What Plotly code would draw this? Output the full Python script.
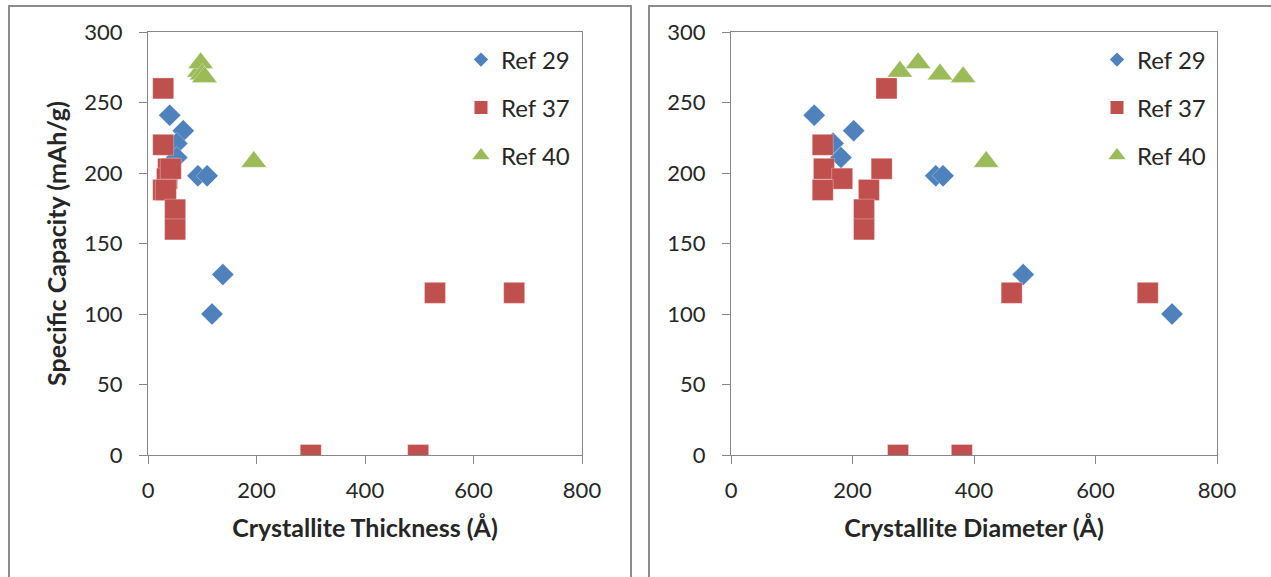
import plotly.graph_objects as go

# ---------------- data ----------------
series_names = ["Ref 29", "Ref 37", "Ref 40"]

capacity_ref29 = [241, 230, 221, 211, 198, 198, 128, 100]
thickness_ref29 = [40, 65, 53, 53, 92, 109, 138, 118]
diameter_ref29 = [137, 202, 168, 181, 337, 349, 481, 726]

capacity_ref37 = [260, 220, 203, 196, 203, 188, 188, 174, 160, 115, 115, 0, 0]
thickness_ref37 = [28, 28, 37, 35, 42, 28, 33, 50, 50, 529, 675, 300, 498]
diameter_ref37 = [256, 151, 153, 183, 248, 151, 227, 219, 219, 462, 686, 275, 380]

capacity_ref40 = [272, 278, 270, 268, 208]
thickness_ref40 = [95, 97, 100, 104, 195]
diameter_ref40 = [278, 308, 344, 382, 420]

x_ticks = [0, 200, 400, 600, 800]
y_ticks = [0, 50, 100, 150, 200, 250, 300]

# ---------------- styling ----------------
W, H = 1271, 577
colors = ["#4F81BD", "#C0504D", "#9BBB59"]
symbols = ["diamond", "square", "triangle-up"]
sizes = [17, 21, 22]
legend_sizes = [11, 13, 15]
FONT = "Lato"
TXT = "#262626"
AX_COLOR = "#868686"


def px_x(v):
    return v / W


def px_y(v):
    return 1 - v / H


fig = go.Figure()

panels = [
    ("x", "y", [thickness_ref29, thickness_ref37, thickness_ref40], ["legend", "legend2", "legend3"], 481),
    ("x2", "y2", [diameter_ref29, diameter_ref37, diameter_ref40], ["legend4", "legend5", "legend6"], 1117),
]
caps = [capacity_ref29, capacity_ref37, capacity_ref40]

for xa, ya, xs_list, legs, leg_x in panels:
    for i in range(3):
        fig.add_trace(go.Scatter(
            x=xs_list[i], y=caps[i], xaxis=xa, yaxis=ya, mode="markers",
            name=series_names[i], showlegend=False,
            marker=dict(symbol=symbols[i], size=sizes[i], color=colors[i],
                        line=dict(width=0.6, color="rgba(255,255,255,0.5)")),
        ))
    for i in range(3):
        fig.add_trace(go.Scatter(
            x=[None], y=[None], xaxis=xa, yaxis=ya, mode="markers",
            name=series_names[i], showlegend=True, legend=legs[i],
            marker=dict(symbol=symbols[i], size=legend_sizes[i], color=colors[i]),
        ))

leg_common = dict(font=dict(family=FONT, size=24, color=TXT),
                  bgcolor="rgba(0,0,0,0)", xanchor="left", yanchor="middle",
                  itemwidth=30, borderwidth=0)
leg_rows = [60, 108, 156]
layout_legs = {}
for p, (_, _, _, legs, leg_x) in enumerate(panels):
    for i, lg in enumerate(legs):
        layout_legs[lg] = dict(leg_common, x=px_x(leg_x - 20), y=px_y(leg_rows[i]))

axis_common = dict(showgrid=False, zeroline=False, showline=True, linecolor=AX_COLOR,
                   linewidth=1, mirror=True, ticks="outside", ticklen=8, tickcolor=AX_COLOR,
                   automargin=False,
                   tickfont=dict(family=FONT, size=22, color=TXT))
xtitle_font = dict(family=FONT, size=25, color=TXT)
ytitle_font = dict(family=FONT, size=25, color=TXT)

fig.update_layout(
    width=W, height=H, margin=dict(l=0, r=0, t=0, b=0, autoexpand=False),
    paper_bgcolor="white", plot_bgcolor="white",
    xaxis=dict(axis_common, domain=[px_x(148), px_x(582)], range=[0, 800], tickvals=x_ticks,
               anchor="y", ticklabelstandoff=8,
               title=dict(text="<b>Crystallite Thickness (Å)</b>", standoff=17, font=xtitle_font)),
    yaxis=dict(axis_common, domain=[px_y(455), px_y(32)], range=[0, 300], tickvals=y_ticks,
               anchor="x", ticklabelstandoff=12,
               title=dict(text="<b>Specific Capacity (mAh/g)</b>", standoff=10, font=ytitle_font)),
    xaxis2=dict(axis_common, domain=[px_x(731), px_x(1217)], range=[0, 800], tickvals=x_ticks,
                anchor="y2", ticklabelstandoff=8,
                title=dict(text="<b>Crystallite Diameter (Å)</b>", standoff=17, font=xtitle_font)),
    yaxis2=dict(axis_common, domain=[px_y(455), px_y(32)], range=[0, 300], tickvals=y_ticks,
                anchor="x2", ticklabelstandoff=12),
    **layout_legs,
    shapes=[
        dict(type="rect", xref="paper", yref="paper", x0=px_x(9), x1=px_x(631),
             y0=-0.05, y1=px_y(6), line=dict(color="#8C8C8C", width=2)),
        dict(type="rect", xref="paper", yref="paper", x0=px_x(649), x1=px_x(1275),
             y0=-0.05, y1=px_y(6), line=dict(color="#8C8C8C", width=2)),
    ],
)

fig.write_html("out.html")
